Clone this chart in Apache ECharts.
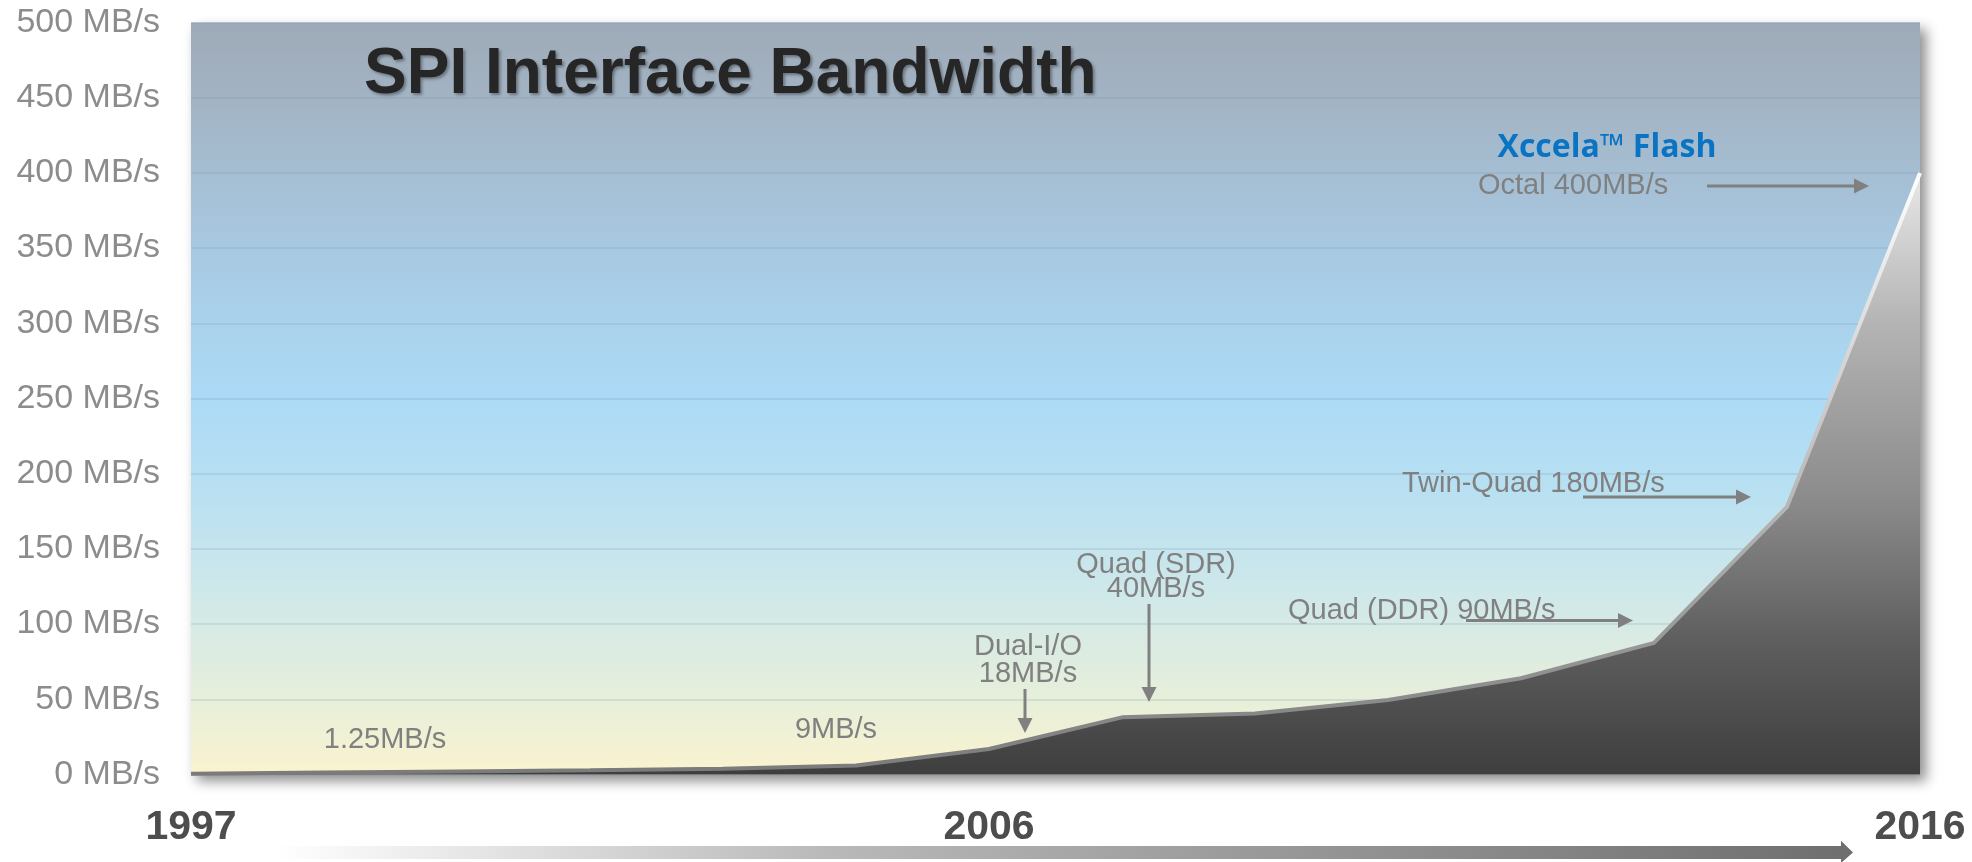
<!DOCTYPE html>
<html><head><meta charset="utf-8">
<script src="https://cdn.jsdelivr.net/npm/echarts@6/dist/echarts.min.js"></script>
<style>html,body{margin:0;padding:0;background:#fff;}#c{width:1972px;height:862px;}</style>
</head><body><div id="c"></div>
<script>
// ---- data ----
const xLabels = ['1997','','','','','','2006','','','','','','','2016'];
const bandwidth = [0.5, 1.25, 2, 2.8, 3.8, 6, 17, 38, 40.5, 49.5, 64, 87.5, 178, 400];
const yUnit = ' MB/s';
const titleText = 'SPI Interface Bandwidth';
const brandText = 'Xccela\u2122 Flash';
const noteTexts = ['1.25MB/s', '9MB/s', 'Dual-I/O', '18MB/s', 'Quad (SDR)', '40MB/s',
                   'Quad (DDR) 90MB/s', 'Twin-Quad 180MB/s', 'Octal 400MB/s'];

// ---- styles ----
const FONT = '"Liberation Sans", Arial, Helvetica, sans-serif';
const NOTE_COLOR = '#808080';
const LG = echarts.graphic.LinearGradient;

function note(text, x, y, align) {
  return { type: 'text', z: 100, style: { text: text, x: x, y: y, fill: NOTE_COLOR,
    font: '29px ' + FONT, align: align || 'center', verticalAlign: 'middle' } };
}
function arrow(x1, y1, x2, y2) {
  const L = 15, W = 7.5;
  const dx = x2 - x1, dy = y2 - y1, len = Math.hypot(dx, dy);
  const ux = dx / len, uy = dy / len;
  const bx = x2 - ux * L, by = y2 - uy * L;
  return { type: 'group', z: 100, children: [
    { type: 'line', z: 100, shape: { x1: x1, y1: y1, x2: bx, y2: by },
      style: { stroke: NOTE_COLOR, lineWidth: 3 } },
    { type: 'polygon', z: 100, shape: { points: [[x2, y2], [bx - uy * W, by + ux * W], [bx + uy * W, by - ux * W]] },
      style: { fill: NOTE_COLOR } }
  ]};
}

const chart = echarts.init(document.getElementById('c'), null, { renderer: 'canvas' });
chart.setOption({
  animation: false,
  backgroundColor: '#ffffff',
  title: {
    text: titleText, left: 359, top: 38,
    textStyle: { fontFamily: FONT, fontWeight: 'bold', fontSize: 64, color: '#262626',
      textShadowColor: 'rgba(0,0,0,0.35)', textShadowBlur: 3, textShadowOffsetX: 2, textShadowOffsetY: 2 }
  },
  grid: {
    left: 191, right: 52, top: 22.5, bottom: 87.5,
    show: true, borderWidth: 0,
    backgroundColor: new LG(0, 0, 0, 1, [
      { offset: 0, color: '#9eaab7' },
      { offset: 0.12, color: '#a3b5c6' },
      { offset: 0.3, color: '#a8c9e2' },
      { offset: 0.5, color: '#acdaf6' },
      { offset: 0.62, color: '#b8e0f2' },
      { offset: 0.76, color: '#cfe8ea' },
      { offset: 0.9, color: '#e7efda' },
      { offset: 1, color: '#faf3cf' }
    ]),
    shadowColor: 'rgba(0,0,0,0.45)', shadowBlur: 12, shadowOffsetX: 6, shadowOffsetY: 6
  },
  xAxis: {
    type: 'category', data: xLabels, boundaryGap: false,
    axisLine: { show: false }, axisTick: { show: false }, splitLine: { show: false },
    axisLabel: { interval: 0, margin: 33, fontFamily: FONT, fontWeight: 'bold', fontSize: 41, color: '#4d4d4d' }
  },
  yAxis: {
    type: 'value', min: 0, max: 500, interval: 50,
    axisLine: { show: false }, axisTick: { show: false },
    axisLabel: { margin: 31, fontFamily: FONT, fontSize: 34, color: '#8c8c8c',
      formatter: function (v) { return v + yUnit; } },
    splitLine: { lineStyle: { color: 'rgba(120,145,170,0.25)', width: 1.5 } }
  },
  series: [{
    type: 'line', data: bandwidth, symbol: 'none', smooth: false,
    lineStyle: { width: 4, color: new LG(0, 0, 0, 1, [
      { offset: 0, color: '#ffffff' }, { offset: 0.5, color: '#bdbdbd' }, { offset: 1, color: '#7a7a7a' }
    ]) },
    areaStyle: { opacity: 1, color: new LG(0, 0, 0, 1, [
      { offset: 0, color: '#e8e8e8' },
      { offset: 0.25, color: '#b4b4b4' },
      { offset: 0.55, color: '#8a8a8a' },
      { offset: 0.78, color: '#5e5e5e' },
      { offset: 1, color: '#3e3e3e' }
    ]) }
  }],
  graphic: [
    note(noteTexts[0], 385, 740),
    note(noteTexts[1], 836, 729.5),
    note(noteTexts[2], 1028, 647),
    note(noteTexts[3], 1028, 674),
    arrow(1025, 689, 1025, 733),
    note(noteTexts[4], 1156, 565),
    note(noteTexts[5], 1156, 589),
    arrow(1149, 604, 1149, 702),
    note(noteTexts[6], 1288, 610.5, 'left'),
    arrow(1466, 620.5, 1633, 620.5),
    note(noteTexts[7], 1402, 484, 'left'),
    arrow(1583, 497, 1751, 497),
    note(noteTexts[8], 1478, 186, 'left'),
    arrow(1707, 186, 1869, 186),
    { type: 'text', z: 100, style: { text: brandText, x: 1607, y: 148, fill: '#0a74c4',
      font: 'bold 32px "Open Sans", ' + FONT, align: 'center', verticalAlign: 'middle' } },
    { type: 'polygon', z: 100, shape: { points: [[274, 846], [1841, 846], [1841, 840.7], [1853, 852.5],
        [1841, 863], [1841, 859], [274, 859]] },
      style: { fill: new LG(0, 0, 1, 0, [
        { offset: 0, color: '#ffffff' }, { offset: 0.35, color: '#b9b9b9' }, { offset: 1, color: '#6e6e6e' }
      ]) } }
  ]
});
</script>
</body></html>
